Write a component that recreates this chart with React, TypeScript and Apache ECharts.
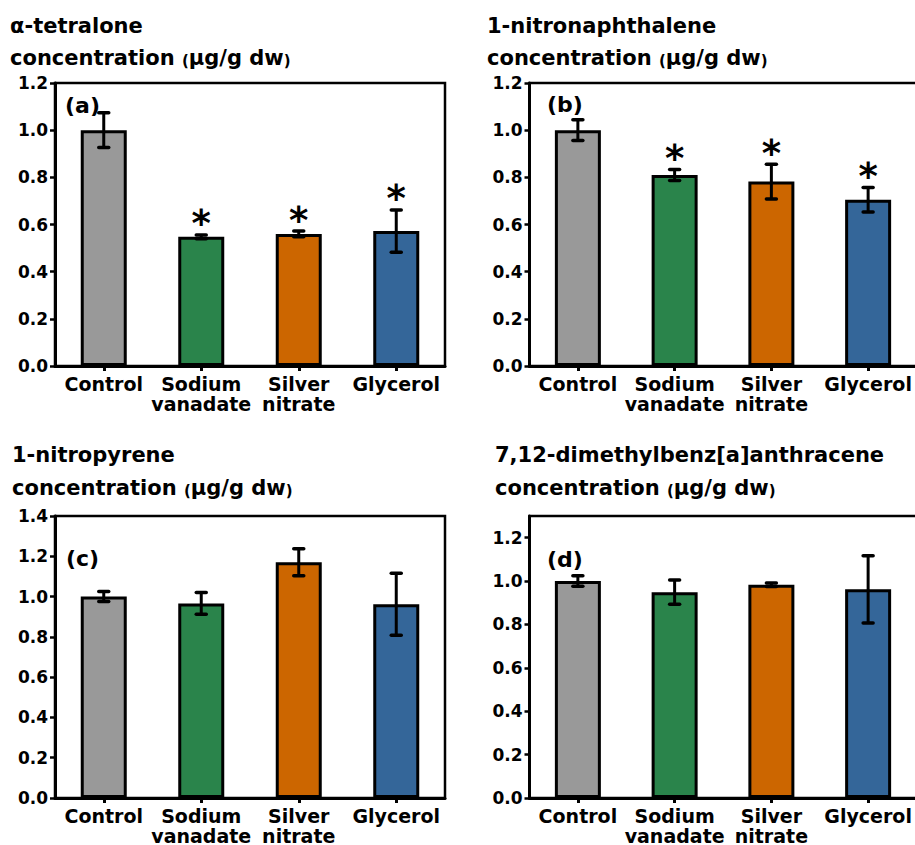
import React, { useEffect, useRef } from 'react';
import * as echarts from 'echarts';

// ---------- data ----------
const categories = ['Control', 'Sodium\nvanadate', 'Silver\nnitrate', 'Glycerol'];
const barColors = ['#999999', '#2A844B', '#CC6600', '#346699'];

const compoundNames = ['α-tetralone', '1-nitronaphthalene', '1-nitropyrene', '7,12-dimethylbenz[a]anthracene'];
const panelTags = ['(a)', '(b)', '(c)', '(d)'];

const meansA = [1.0, 0.548, 0.56, 0.572];
const errA = [0.074, 0.008, 0.012, 0.09];
const starA = [0, 1, 1, 1];

const meansB = [1.0, 0.81, 0.782, 0.705];
const errB = [0.044, 0.023, 0.074, 0.052];
const starB = [0, 1, 1, 1];

const meansC = [1.0, 0.966, 1.17, 0.962];
const errC = [0.025, 0.054, 0.067, 0.154];
const starC = [0, 0, 0, 0];

const meansD = [1.0, 0.949, 0.983, 0.962];
const errD = [0.024, 0.056, 0.008, 0.155];
const starD = [0, 0, 0, 0];

const ticksA = [0, 0.2, 0.4, 0.6, 0.8, 1.0, 1.2];
const ticksB = [0, 0.2, 0.4, 0.6, 0.8, 1.0, 1.2];
const ticksC = [0, 0.2, 0.4, 0.6, 0.8, 1.0, 1.2, 1.4];
const ticksD = [0, 0.2, 0.4, 0.6, 0.8, 1.0, 1.2];
const axisMax = [1.2, 1.2, 1.4, 1.3];

// ---------- layout ----------
const FONT = 'DejaVu Sans';
const grids = [
  { left: 55, top: 83, width: 390, height: 283 },
  { left: 529.5, top: 83, width: 387, height: 283 },
  { left: 55, top: 516, width: 390, height: 282 },
  { left: 529.5, top: 516, width: 387, height: 282 },
];
const titlePos = [
  { x: 10, y1: 25.7, y2: 57.7 },
  { x: 487, y1: 25.7, y2: 57.7 },
  { x: 12, y1: 454.7, y2: 487.7 },
  { x: 495, y1: 454.7, y2: 487.7 },
];
const tagPos = [
  { x: 65, y: 105 },
  { x: 547, y: 104 },
  { x: 66, y: 558 },
  { x: 547, y: 559 },
];

const panels = [
  { means: meansA, err: errA, star: starA, ticks: ticksA },
  { means: meansB, err: errB, star: starB, ticks: ticksB },
  { means: meansC, err: errC, star: starC, ticks: ticksC },
  { means: meansD, err: errD, star: starD, ticks: ticksD },
];

function buildOption() {
  const grid: any[] = [];
  const xAxis: any[] = [];
  const yAxis: any[] = [];
  const series: any[] = [];
  const graphic: any[] = [];

  panels.forEach((p, i) => {
    grid.push({
      ...grids[i],
      show: true,
      borderColor: '#000',
      borderWidth: 2.5,
      outerBoundsMode: 'none',
      containLabel: false,
    });
    xAxis.push({
      type: 'category',
      gridIndex: i,
      data: categories,
      axisLine: { show: true, lineStyle: { color: '#000', width: 3 } },
      axisTick: { show: true, alignWithLabel: true, length: 5, lineStyle: { color: '#000', width: 3 } },
      axisLabel: {
        interval: 0,
        margin: 8,
        color: '#000',
        fontFamily: FONT,
        fontWeight: 'bold',
        fontSize: 19,
        lineHeight: 20,
      },
      splitLine: { show: false },
    });
    yAxis.push({
      type: 'value',
      gridIndex: i,
      min: 0,
      max: axisMax[i],
      interval: 0.2,
      axisLine: { show: true, lineStyle: { color: '#000', width: 3 } },
      axisTick: { show: true, length: 5, customValues: p.ticks, lineStyle: { color: '#000', width: 2.5 } },
      axisLabel: {
        customValues: p.ticks,
        margin: 7,
        color: '#000',
        fontFamily: FONT,
        fontWeight: 'bold',
        fontSize: 17,
        formatter: (v: number) => v.toFixed(1),
      },
      splitLine: { show: false },
    });
    series.push({
      type: 'bar',
      xAxisIndex: i,
      yAxisIndex: i,
      barWidth: 46,
      data: p.means.map((v, k) => ({
        value: v,
        itemStyle: { color: barColors[k], borderColor: '#000', borderWidth: 3 },
      })),
      z: 2,
    });
    series.push({
      type: 'custom',
      xAxisIndex: i,
      yAxisIndex: i,
      z: 5,
      data: p.means.map((v, k) => [k, v - p.err[k], v + p.err[k], p.star[k]]),
      renderItem: (params: any, api: any) => {
        const c = api.value(0);
        const lo = api.coord([c, api.value(1)]);
        const hi = api.coord([c, api.value(2)]);
        const star = api.value(3);
        const hw = 5;
        const ls = { stroke: '#000', lineWidth: 3.5, lineCap: 'round' };
        const children: any[] = [
          { type: 'line', shape: { x1: lo[0], y1: lo[1], x2: hi[0], y2: hi[1] }, style: { stroke: '#000', lineWidth: 3 } },
          { type: 'line', shape: { x1: hi[0] - hw, y1: hi[1], x2: hi[0] + hw, y2: hi[1] }, style: ls },
          { type: 'line', shape: { x1: lo[0] - hw, y1: lo[1], x2: lo[0] + hw, y2: lo[1] }, style: ls },
        ];
        if (star) {
          children.push({
            type: 'text',
            x: hi[0],
            y: hi[1] - 11,
            style: {
              text: '*',
              fill: '#000',
              fontFamily: FONT,
              fontWeight: 'bold',
              fontSize: 37,
              align: 'center',
              verticalAlign: 'middle',
            },
          });
        }
        return { type: 'group', children };
      },
    });

    const tp = titlePos[i];
    graphic.push({
      type: 'text',
      x: tp.x,
      y: tp.y1,
      style: {
        text: compoundNames[i],
        fill: '#000',
        fontFamily: FONT,
        fontWeight: 'bold',
        fontSize: 21,
        align: 'left',
        verticalAlign: 'middle',
      },
    });
    graphic.push({
      type: 'text',
      x: tp.x,
      y: tp.y2,
      style: {
        text: 'concentration {p|(}μg/g dw{p|)}',
        fill: '#000',
        fontFamily: FONT,
        fontWeight: 'bold',
        fontSize: 21,
        align: 'left',
        verticalAlign: 'middle',
        rich: {
          p: { fontFamily: FONT, fontWeight: 'bold', fontSize: 15, fill: '#000', verticalAlign: 'bottom' },
        },
      },
    });
    graphic.push({
      type: 'text',
      x: tagPos[i].x,
      y: tagPos[i].y,
      z: 10,
      style: {
        text: panelTags[i],
        fill: '#000',
        fontFamily: FONT,
        fontWeight: 'bold',
        fontSize: 22,
        align: 'left',
        verticalAlign: 'middle',
      },
    });
  });

  return {
    animation: false,
    backgroundColor: '#fff',
    grid,
    xAxis,
    yAxis,
    series,
    graphic,
  };
}

export default function App() {
  const ref = useRef<HTMLDivElement>(null);
  useEffect(() => {
    if (!ref.current) return;
    const chart = echarts.init(ref.current, null, { renderer: 'svg' });
    chart.setOption(buildOption() as any);
    return () => chart.dispose();
  }, []);
  return (
    <div
      ref={ref}
      style={{ position: 'absolute', left: 0, top: 0, width: 915, height: 845, background: '#fff' }}
    />
  );
}
